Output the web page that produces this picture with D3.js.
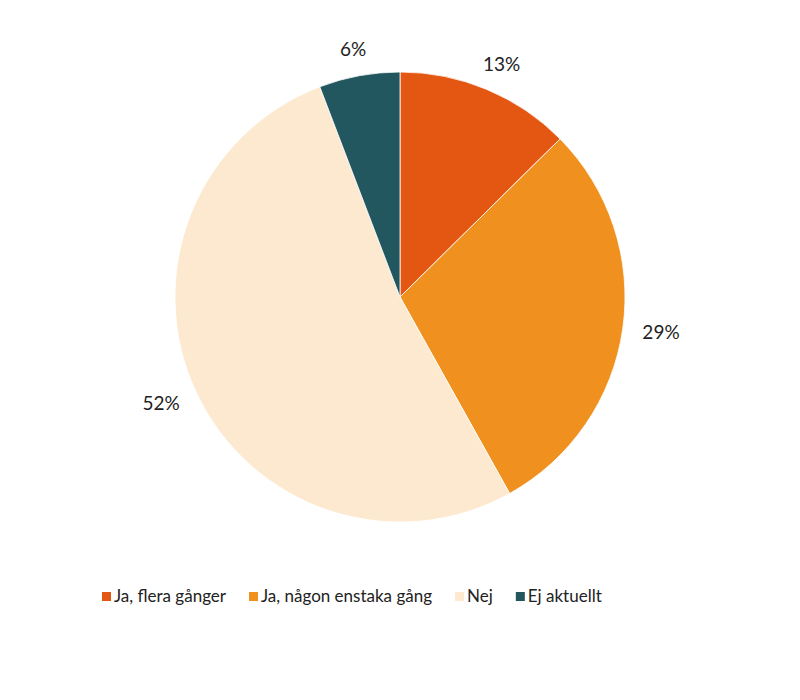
<!DOCTYPE html>
<html>
<head>
<meta charset="utf-8">
<script src="https://cdn.jsdelivr.net/npm/d3@7"></script>
<style>
  body { margin: 0; background: #fff; }
  text { font-family: Lato, "Open Sans", sans-serif; fill: #222; }
</style>
</head>
<body>
<div id="main"></div>
<script>
const width = 800;
const height = 700;

// data
const categories = ['Ja, flera gånger', 'Ja, någon enstaka gång', 'Nej', 'Ej aktuellt'];
const values = [12.6, 29.3, 52.3, 5.8];
const labels = ['13%', '29%', '52%', '6%'];
const colors = ['#E35712', '#F0901E', '#FCE9CF', '#22575F'];

const cx = 400, cy = 297, radius = 225, labelRadius = 245;

const svg = d3.select('#main')
    .append('svg')
    .attr('width', width)
    .attr('height', height);

const color = d3.scaleOrdinal().domain(categories).range(colors);

const pie = d3.pie().sort(null).value(d => d.value);
const arc = d3.arc().innerRadius(0).outerRadius(radius);
const labelArc = d3.arc().innerRadius(labelRadius).outerRadius(labelRadius);

const data = categories.map((c, i) => ({name: c, value: values[i], label: labels[i]}));
const arcs = pie(data);

const g = svg.append('g').attr('transform', `translate(${cx},${cy})`);

g.selectAll('path')
    .data(arcs)
    .enter()
    .append('path')
    .attr('d', arc)
    .attr('fill', d => color(d.data.name))
    .attr('stroke', '#fff')
    .attr('stroke-width', 0.8);

// outside-end labels: the label box touches the anchor point on its inner side
const lbl = g.selectAll('text.lbl')
    .data(arcs)
    .enter()
    .append('text')
    .attr('class', 'lbl')
    .attr('text-anchor', 'middle')
    .attr('dy', '0.35em')
    .style('font-size', '19px')
    .text(d => d.data.label);

lbl.attr('transform', function(d) {
    const [px, py] = labelArc.centroid(d);
    const a = (d.startAngle + d.endAngle) / 2;
    const w = this.getComputedTextLength();
    const h = 14;
    return `translate(${px + Math.sin(a) * w / 2},${py - Math.cos(a) * h / 2})`;
});

// legend, laid out left to right
const legend = svg.append('g').attr('transform', 'translate(102,596)');
let x = 0;
categories.forEach(c => {
    const item = legend.append('g').attr('transform', `translate(${x},0)`);
    item.append('rect')
        .attr('x', 0).attr('y', -4)
        .attr('width', 9).attr('height', 9)
        .attr('fill', color(c));
    const t = item.append('text')
        .attr('x', 12)
        .attr('dy', '0.35em')
        .style('font-size', '17px')
        .text(c);
    x += 12 + t.node().getComputedTextLength() + 23;
});
</script>
</body>
</html>
